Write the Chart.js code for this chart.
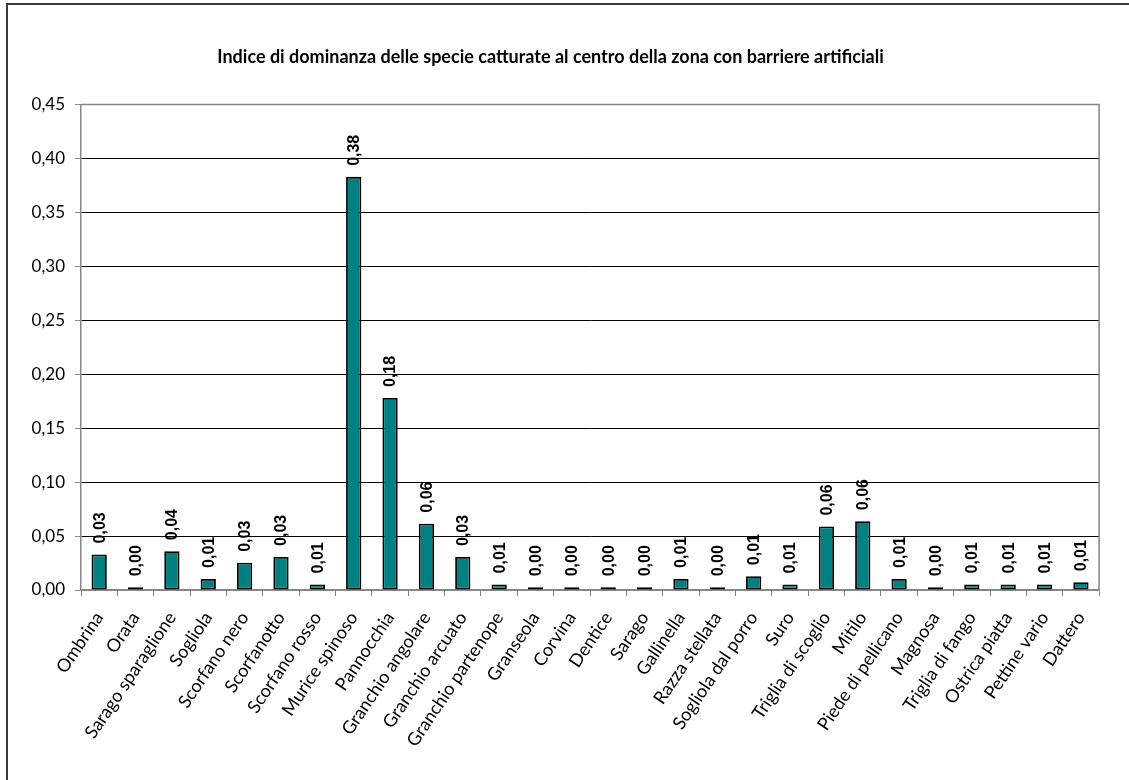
<!DOCTYPE html>
<html>
<head>
<meta charset="utf-8">
<script src="https://cdn.jsdelivr.net/npm/chart.js@4/dist/chart.umd.min.js"></script>
<style>
    html, body { margin: 0; padding: 0; background: #fff; }
    #frame {
        position: absolute; left: 6px; top: 3px; width: 1123px; height: 777px;
        border-left: 2px solid #3a3a3a; border-top: 2px solid #3a3a3a;
        box-sizing: border-box;
    }
    #wrap { position: absolute; left: 0; top: 0; width: 1111px; height: 780px; }
</style>
</head>
<body>
<div id="frame"></div>
<div id="wrap"><canvas id="dominanzaChart" width="1111" height="780"></canvas></div>
<script>
const species = [
    'Ombrina', 'Orata', 'Sarago sparaglione', 'Sogliola', 'Scorfano nero',
    'Scorfanotto', 'Scorfano rosso', 'Murice spinoso', 'Pannocchia',
    'Granchio angolare', 'Granchio arcuato', 'Granchio partenope', 'Granseola',
    'Corvina', 'Dentice', 'Sarago', 'Gallinella', 'Razza stellata',
    'Sogliola dal porro', 'Suro', 'Triglia di scoglio', 'Mitilo',
    'Piede di pellicano', 'Magnosa', 'Triglia di fango', 'Ostrica piatta',
    'Pettine vario', 'Dattero'
];
const dominanza = [
    0.033, 0.0025, 0.036, 0.0103, 0.0252,
    0.0307, 0.0052, 0.383, 0.178,
    0.0615, 0.0306, 0.0052, 0.0025,
    0.0025, 0.0025, 0.0025, 0.0103, 0.0025,
    0.0128, 0.0052, 0.0588, 0.0638,
    0.0103, 0.0025, 0.0052, 0.0052,
    0.0052, 0.0072
];
const yTicks = [0, 0.05, 0.10, 0.15, 0.20, 0.25, 0.30, 0.35, 0.40, 0.45];

const fmt = v => v.toFixed(2).replace('.', ',');
const GRAY = '#868686';

// valori sopra le barre, ruotati
const valueLabels = {
    id: 'valueLabels',
    afterDatasetsDraw(chart) {
        const ctx = chart.ctx;
        const meta = chart.getDatasetMeta(0);
        ctx.save();
        ctx.font = 'bold 16px "Liberation Sans", Arial, sans-serif';
        ctx.fillStyle = '#000';
        ctx.textAlign = 'left';
        ctx.textBaseline = 'middle';
        meta.data.forEach((bar, i) => {
            ctx.save();
            ctx.translate(bar.x + 1, bar.y - 11);
            ctx.rotate(-Math.PI / 2);
            ctx.fillText(fmt(dominanza[i]), 0, 0);
            ctx.restore();
        });
        ctx.restore();
    }
};

// bordo dell'area del grafico
const plotBorder = {
    id: 'plotBorder',
    beforeDatasetsDraw(chart) {
        const a = chart.chartArea;
        const ctx = chart.ctx;
        ctx.save();
        ctx.strokeStyle = GRAY;
        ctx.lineWidth = 1.5;
        ctx.beginPath();
        ctx.moveTo(a.left, a.top);
        ctx.lineTo(a.right, a.top);
        ctx.lineTo(a.right, a.bottom);
        ctx.stroke();
        ctx.restore();
    }
};

const ctx = document.getElementById('dominanzaChart').getContext('2d');
new Chart(ctx, {
    type: 'bar',
    data: {
        labels: species,
        datasets: [{
            data: dominanza,
            backgroundColor: '#008080',
            borderColor: '#000',
            borderWidth: 1.8,
            borderSkipped: false,
            categoryPercentage: 1,
            barPercentage: 0.42
        }]
    },
    options: {
        responsive: false,
        animation: false,
        layout: { padding: { left: 0, right: 10, top: 0, bottom: 0 } },
        plugins: {
            legend: { display: false },
            tooltip: { enabled: false },
            title: {
                display: true,
                text: 'Indice di dominanza delle specie catturate al centro della zona con barriere artificiali',
                color: '#000',
                font: { family: 'Lato, sans-serif', size: 18, weight: 'bold' },
                padding: { top: 46, bottom: 37 }
            }
        },
        scales: {
            x: {
                offset: true,
                grid: { offset: true, drawOnChartArea: false, tickLength: 6, color: GRAY },
                border: { color: GRAY, width: 1.5 },
                ticks: {
                    autoSkip: false,
                    maxRotation: 56,
                    minRotation: 56,
                    padding: 12,
                    color: '#000',
                    font: { family: 'Lato, sans-serif', size: 18 }
                },
                afterFit(scale) { scale.height = 190; }
            },
            y: {
                min: 0,
                max: 0.45,
                afterBuildTicks(scale) { scale.ticks = yTicks.map(v => ({ value: v })); },
                grid: {
                    color: c => (c.tick && (c.tick.value === 0 || c.tick.value === 0.45)) ? GRAY : '#000',
                    tickColor: GRAY,
                    tickLength: 6
                },
                border: { color: GRAY, width: 1.5 },
                ticks: {
                    padding: 10,
                    color: '#000',
                    font: { family: 'Lato, sans-serif', size: 17 },
                    callback: v => fmt(v)
                },
                afterFit(scale) { scale.width = 81; }
            }
        }
    },
    plugins: [plotBorder, valueLabels]
});
</script>
</body>
</html>
